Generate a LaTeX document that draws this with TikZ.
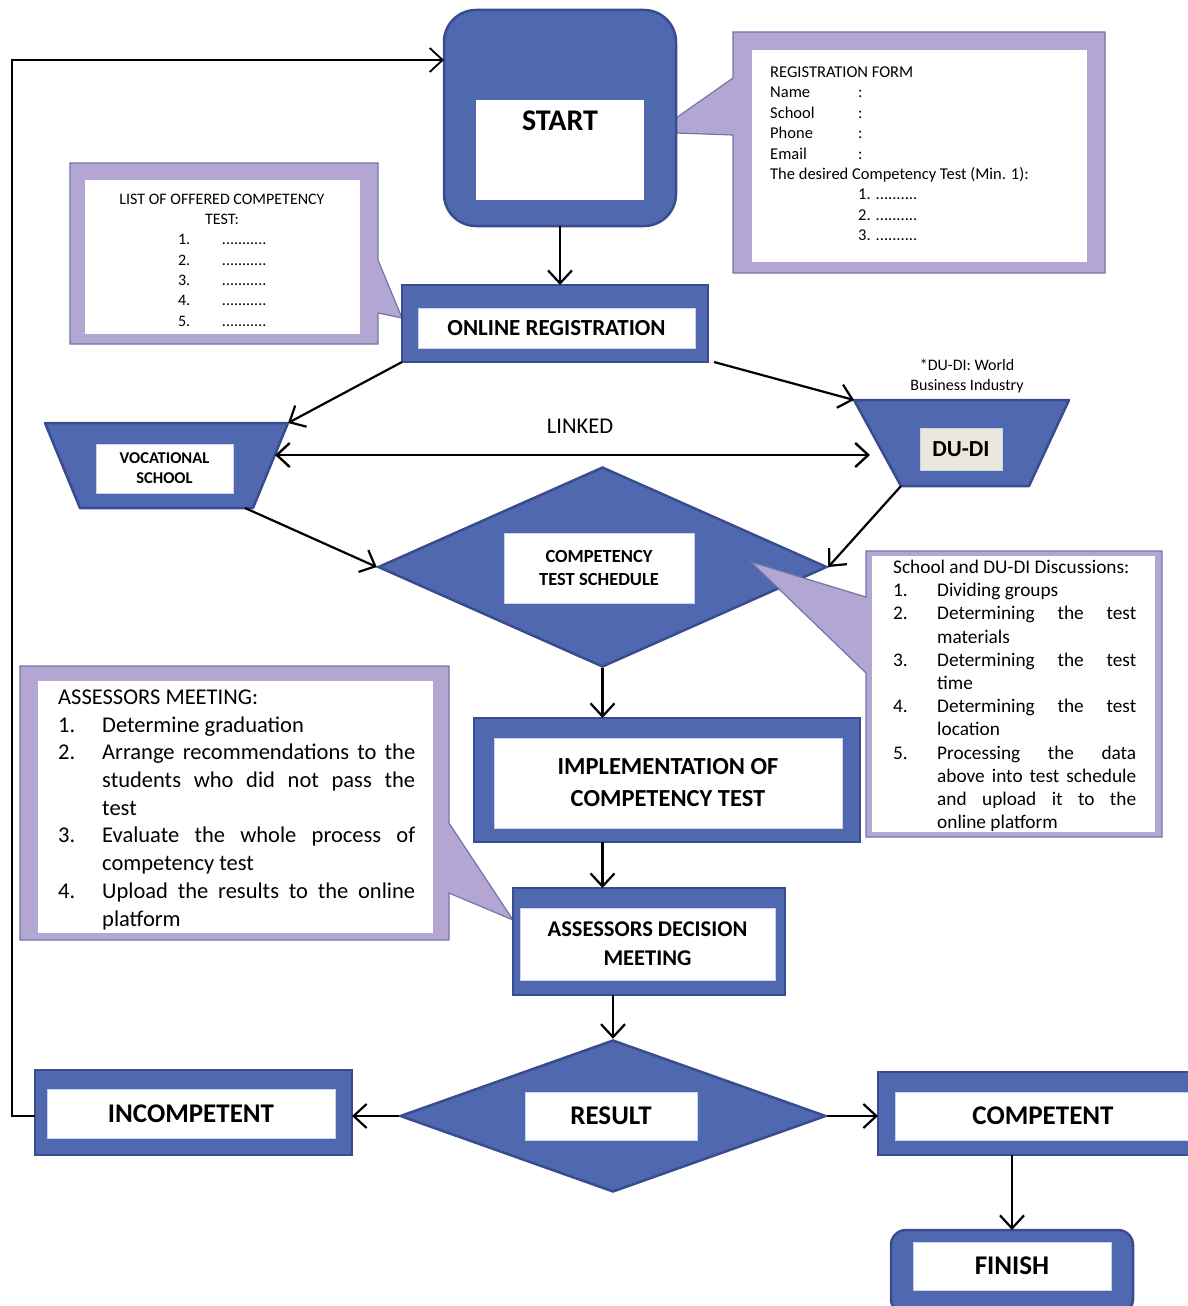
\documentclass[tikz,border=0pt]{standalone}
\usepackage{fontspec}
\setmainfont{Carlito}
\usetikzlibrary{shapes.geometric,arrows.meta,calc,backgrounds}
\definecolor{bfill}{RGB}{80,104,175}
\definecolor{bline}{RGB}{56,76,143}
\definecolor{lav}{RGB}{180,166,210}
\definecolor{lavline}{RGB}{110,118,172}
\definecolor{dudifill}{RGB}{234,232,221}
\newcommand{\myfs}[2]{\fontsize{#1pt}{#2pt}\selectfont}
\newcommand{\numcol}[1]{\makebox[44pt][l]{#1}}
\newcommand{\justline}[2]{\makebox[#1pt][s]{#2}}
\begin{document}
\begin{tikzpicture}[x=1pt,y=-1pt,
  bluebox/.style={draw=bline, fill=bfill, line width=2.5pt, inner sep=0pt, outer sep=0pt},
  wbox/.style={draw=white!70!bfill, fill=white, line width=1pt, inner sep=0pt},
  hold/.style={inner sep=0pt, outer sep=0pt},
  callout/.style={fill=lav, draw=lavline, line width=1.2pt, line join=miter},
  arr/.style={-{Straight Barb[length=13pt,width=24pt]}, line width=2.2pt, black},
  dbl/.style={{Straight Barb[length=13pt,width=24pt]}-{Straight Barb[length=13pt,width=24pt]}, line width=2.4pt, black},
  blk/.style={anchor=north west, inner sep=0pt, align=left}
]
\useasboundingbox (0,0) rectangle (1188,1306);

% ---------- boxes ----------
\node[bluebox, rounded corners=32pt, minimum width=232pt, minimum height=216pt] (start) at (560,118) {};
\node[fill=white, inner sep=0pt, minimum width=168pt, minimum height=100pt] (startin) at (560,150) {};
\node[font=\myfs{30}{36}\bfseries, inner sep=0pt] (starttxt) at (560,121) {START};

\node[bluebox, minimum width=306pt, minimum height=77pt] (onl) at (555,323.5) {};
\node[wbox, minimum width=277pt, minimum height=40pt, font=\myfs{23}{28}\bfseries] (onlin) at (556.5,328) {ONLINE REGISTRATION};

\node[hold, minimum width=243pt, minimum height=85pt] (voc) at (166.5,465.5) {};
\filldraw[draw=bline, fill=bfill, line width=2.5pt, line join=round]
  (voc.north west) -- (voc.north east) -- ($(voc.south east)+(-35,0)$) -- ($(voc.south west)+(35,0)$) -- cycle;
\node[wbox, minimum width=137pt, minimum height=49pt, align=center, font=\myfs{16.5}{19.8}\bfseries] (vocin) at (164.5,468.5) {VOCATIONAL\\SCHOOL};

\node[hold, minimum width=215pt, minimum height=86pt] (dudi) at (961.5,443) {};
\filldraw[draw=bline, fill=bfill, line width=2.5pt, line join=round]
  (dudi.north west) -- (dudi.north east) -- ($(dudi.south east)+(-40,0)$) -- ($(dudi.south west)+(47,0)$) -- cycle;
\node[fill=dudifill, draw=white!70!bfill, line width=1pt, inner sep=0pt, minimum width=82pt, minimum height=42pt, font=\myfs{23}{28}\bfseries] (dudiin) at (961,449) {DU-DI};
\node[align=center, inner sep=0pt, font=\myfs{16}{20}] (dudinote) at (967,376) {*DU-DI: World\\Business Industry};

\node[inner sep=0pt, font=\myfs{22.5}{27}] (linked) at (580,426) {LINKED};

\node[diamond, draw=bline, fill=bfill, line width=2.5pt, minimum width=449pt, minimum height=200pt, inner sep=0pt] (sch) at (602.5,567) {};
\node[wbox, minimum width=190pt, minimum height=70pt, align=center, font=\myfs{18.5}{23}\bfseries] (schin) at (599,568) {COMPETENCY\\TEST SCHEDULE};

% ---------- discussion callout (over the diamond) ----------
\node[hold, minimum width=296pt, minimum height=286pt] (disc) at (1014,694) {};
\coordinate (disctip) at (751,562);
\filldraw[callout] (disc.north west) -- (disc.north east) -- (disc.south east) -- (disc.south west)
  -- ($(disc.north west)+(0,122)$) -- (disctip) -- ($(disc.north west)+(0,46)$) -- cycle;
\fill[white] ($(disc.north west)+(6,5)$) rectangle ($(disc.south east)+(-7,-5)$);
\node[blk, font=\myfs{19.3}{23.2}] (disctxt) at (893,557) {\strut School and DU-DI Discussions:\\
\numcol{1.}Dividing groups\\
\numcol{2.}\justline{199}{Determining the test}\\
\numcol{}materials\\
\numcol{3.}\justline{199}{Determining the test}\\
\numcol{}time\\
\numcol{4.}\justline{199}{Determining the test}\\
\numcol{}location\\
\numcol{5.}\justline{199}{Processing the data}\\
\numcol{}\justline{199}{above into test schedule}\\
\numcol{}\justline{199}{and upload it to the}\\
\numcol{}online platform};

\node[bluebox, minimum width=386pt, minimum height=124pt] (impl) at (667,780) {};
\node[wbox, minimum width=348pt, minimum height=90pt, align=center, font=\myfs{24.5}{32}\bfseries] (implin) at (668,783) {IMPLEMENTATION OF\\COMPETENCY TEST};

\node[bluebox, minimum width=272pt, minimum height=107pt] (asd) at (649,941.5) {};
\node[wbox, minimum width=255pt, minimum height=72pt, align=center, font=\myfs{22.5}{29}\bfseries] (asdin) at (647.5,944) {ASSESSORS DECISION\\MEETING};

\node[diamond, draw=bline, fill=bfill, line width=2.5pt, minimum width=426pt, minimum height=152pt, inner sep=0pt] (res) at (613,1116) {};
\node[wbox, minimum width=172pt, minimum height=48pt, font=\myfs{27}{32}\bfseries] (resin) at (611,1116) {RESULT};

\node[bluebox, minimum width=317pt, minimum height=85pt] (inc) at (193.5,1112.5) {};
\node[wbox, minimum width=288pt, minimum height=49pt, font=\myfs{27}{32}\bfseries] (incin) at (191,1113.5) {INCOMPETENT};

\node[bluebox, minimum width=317pt, minimum height=83pt] (comp) at (1036.5,1113.5) {};
\node[wbox, minimum width=296pt, minimum height=48pt, font=\myfs{27}{32}\bfseries] (compin) at (1043,1116) {COMPETENT};

\node[bluebox, rounded corners=15pt, minimum width=242pt, minimum height=84pt] (fin) at (1012,1272) {};
\node[wbox, minimum width=198pt, minimum height=48pt, font=\myfs{27}{32}\bfseries] (finin) at (1012,1266) {FINISH};

% ---------- callouts behind the boxes ----------
\node[hold, minimum width=372pt, minimum height=241pt] (reg) at (919,152.5) {};
\node[hold, minimum width=308pt, minimum height=181pt] (lst) at (224,253.5) {};
\node[hold, minimum width=429pt, minimum height=274pt] (asm) at (234.5,803) {};
\coordinate (asmtip) at (513,920);
\begin{pgfonlayer}{background}
\filldraw[callout] (reg.north west) -- (reg.north east) -- (reg.south east) -- (reg.south west)
  -- ($(reg.north west)+(0,103)$) -- (start.east |- 0,133) -- (start.east |- 0,118) -- ($(reg.north west)+(0,46)$) -- cycle;
\fill[white] ($(reg.north west)+(19,18)$) rectangle ($(reg.south east)+(-18,-11)$);
\filldraw[callout] (lst.north west) -- (lst.north east) -- ($(lst.north east)+(0,97)$) -- (onl.west |- 0,318)
  -- ($(lst.north east)+(0,150)$) -- (lst.south east) -- (lst.south west) -- cycle;
\fill[white] ($(lst.north west)+(15,17)$) rectangle ($(lst.south east)+(-18,-10)$);
\filldraw[callout] (asm.north west) -- (asm.north east) -- ($(asm.north east)+(0,157)$) -- (asmtip)
  -- ($(asm.north east)+(0,227)$) -- (asm.south east) -- (asm.south west) -- cycle;
\fill[white] ($(asm.north west)+(18,15)$) rectangle ($(asm.south east)+(-16,-7)$);
\end{pgfonlayer}

\node[blk, font=\myfs{16.5}{20.4}] (regtxt) at (770,63) {\strut REGISTRATION FORM\\
\makebox[88pt][l]{Name}:\\
\makebox[88pt][l]{School}:\\
\makebox[88pt][l]{Phone}:\\
\makebox[88pt][l]{Email}:\\
The desired Competency Test (Min. 1):\\
\makebox[88pt][l]{}1. ..........\\
\makebox[88pt][l]{}2. ..........\\
\makebox[88pt][l]{}3. ..........};

\node[anchor=north, inner sep=0pt, align=center, font=\myfs{16}{20.3}] (lsttxt) at (222,189.8) {\strut LIST OF OFFERED COMPETENCY\\
TEST:\\
\numcol{1.}\numcol{...........}\\
\numcol{2.}\numcol{...........}\\
\numcol{3.}\numcol{...........}\\
\numcol{4.}\numcol{...........}\\
\numcol{5.}\numcol{...........}};

\node[blk, font=\myfs{22.5}{27.7}] (asmtxt) at (58,684.8) {\strut ASSESSORS MEETING:\\
\numcol{1.}Determine graduation\\
\numcol{2.}\justline{313}{Arrange recommendations to the}\\
\numcol{}\justline{313}{students who did not pass the}\\
\numcol{}test\\
\numcol{3.}\justline{313}{Evaluate the whole process of}\\
\numcol{}competency test\\
\numcol{4.}\justline{313}{Upload the results to the online}\\
\numcol{}platform};

% ---------- connectors ----------
\coordinate (looptop) at (12,60);
\draw[arr] (start.south) -- (start.south |- onl.north);
\draw[arr, line width=1.8pt] (inc.west |- res.west) -| (looptop) -- (looptop -| start.west);
\draw[arr] (onl.south west) -- (voc.north east);
\draw[arr] ($(onl.south east)+(6,0)$) -- (dudi.north west);
\draw[dbl] ($(voc.north east)+(-13,32)$) -- ($(dudi.north west)+(16,55)$);
\draw[arr] ($(voc.south east)+(-43,0)$) -- (sch.west);
\draw[arr] ($(dudi.south west)+(47,0)$) -- (sch.east);
\draw[arr] (sch.south) -- (sch.south |- impl.north);
\draw[arr] (sch.south |- impl.south) -- (sch.south |- asd.north);
\draw[arr] (res.north |- asd.south) -- (res.north);
\draw[arr] (res.west) -- (res.west -| inc.east);
\draw[arr] (res.east) -- (res.east -| comp.west);
\draw[arr] (fin.north |- comp.south) -- (fin.north);
\end{tikzpicture}
\end{document}
